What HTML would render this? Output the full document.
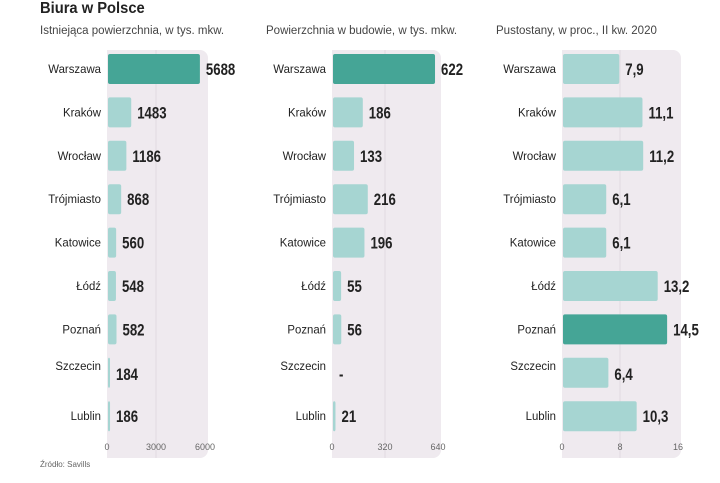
<!DOCTYPE html>
<html><head><meta charset="utf-8"><style>
body{margin:0;background:#fff;width:720px;height:478px;overflow:hidden;font-family:"Liberation Sans",sans-serif}
</style></head><body>
<svg id="c" width="720" height="478" xmlns="http://www.w3.org/2000/svg">
<text transform="translate(40,13) scale(0.95,1)" font-size="15.5" font-weight="bold" fill="#222">Biura w Polsce</text>
<text transform="translate(40,34)" font-size="11.5" fill="#444">Istniejąca powierzchnia, w tys. mkw.</text>
<text transform="translate(266,34)" font-size="11.5" fill="#444">Powierzchnia w budowie, w tys. mkw.</text>
<text transform="translate(496,34)" font-size="11.5" fill="#444">Pustostany, w proc.,  II kw. 2020</text>
<text x="40" y="467" font-size="8" fill="#666">Źródło: Savills</text>
</svg>
<script>
const cities=["Warszawa","Kraków","Wrocław","Trójmiasto","Katowice","Łódź","Poznań","Szczecin","Lublin"];
const existing=[5688,1483,1186,868,560,548,582,184,186];
const existingLabels=["5688","1483","1186","868","560","548","582","184","186"];
const construction=[622,186,133,216,196,55,56,null,21];
const constructionLabels=["622","186","133","216","196","55","56","-","21"];
const vacancy=[7.9,11.1,11.2,6.1,6.1,13.2,14.5,6.4,10.3];
const vacancyLabels=["7,9","11,1","11,2","6,1","6,1","13,2","14,5","6,4","10,3"];
const ticks1=[0,3000,6000],ticks2=[0,320,640],ticks3=[0,8,16];
const NS="http://www.w3.org/2000/svg";
const svg=document.getElementById("c");
function mk(t,a,p){const e=document.createElementNS(NS,t);for(const k in a)e.setAttribute(k,a[k]);(p||svg).appendChild(e);return e;}
const rowY=i=>69+i*43.4;
const panels=[
 {id:"existing",vals:existing,labs:existingLabels,ticks:ticks1,x0:107,x1:205,max:6000,hl:0,labelRight:101},
 {id:"construction",vals:construction,labs:constructionLabels,ticks:ticks2,x0:332,x1:438,max:640,hl:0,labelRight:326},
 {id:"vacancy",vals:vacancy,labs:vacancyLabels,ticks:ticks3,x0:562,x1:678,max:16,hl:6,labelRight:556}
];
panels.forEach((p,pi)=>{
 const sx=v=>p.x0+(v/p.max)*(p.x1-p.x0);
 const g=mk("g",{});
 
 
 const bg=mk("rect",{x:p.x0,y:50,width:sx(p.max)-p.x0+3,height:408,rx:8,fill:"#efeaef"},g);
 
 
 mk("rect",{x:p.x0,y:50,width:8,height:408,fill:"#efeaef"},g);
 p.ticks.forEach((t,ti)=>{
  if(ti>0&&ti<p.ticks.length-1){const gl=mk("line",{x1:sx(t),x2:sx(t),y1:50,y2:458,stroke:"#e0dae0","stroke-width":1},g);
   
   }
  const tl=mk("text",{x:sx(t),y:450,"font-size":9,fill:"#666","text-anchor":"middle"},g);tl.textContent=t;
  
  
 });
 cities.forEach((c,i)=>{
  const cy=rowY(i);
  const ly=(i===7)?cy-3:cy+4;
  const cl=mk("text",{transform:`translate(${p.labelRight},${ly}) scale(0.95,1)`,"font-size":12,fill:"#222","text-anchor":"end"},g);cl.textContent=c;
  
  
  const v=p.vals[i];let end=p.x0+1;
  if(v!==null){
   const w=Math.max(sx(v)-p.x0-1,1);
   const b=mk("rect",{x:p.x0+1,y:cy-15,width:w,height:30,rx:2,fill:(i===p.hl)?"#45a596":"#a6d5d2"},g);
   
   
   end=p.x0+1+w;
  }
  const vl=mk("text",{transform:`translate(${end+6},${cy+(i===7?7:6)}) scale(0.8,1)`,"font-size":16.5,"font-weight":"bold",fill:"#222"},g);vl.textContent=p.labs[i];
  
  
 });
});
</script>
</body></html>
